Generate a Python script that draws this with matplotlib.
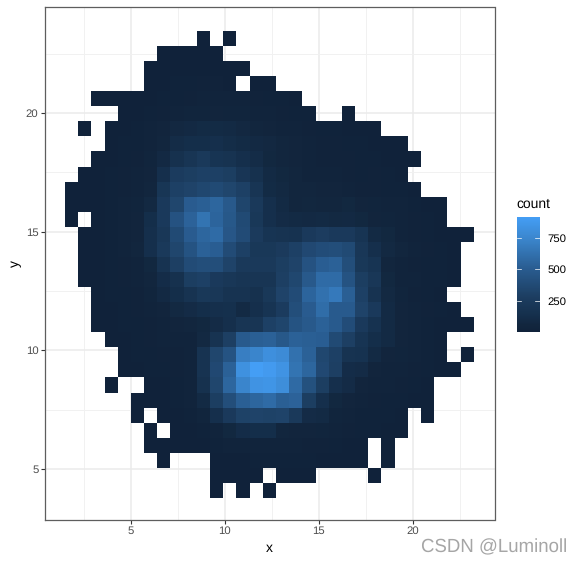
import matplotlib
matplotlib.use("Agg")
import matplotlib.pyplot as plt
import numpy as np
from matplotlib.colors import LinearSegmentedColormap

plt.rcParams["font.family"] = ["Liberation Sans", "DejaVu Sans"]
plt.rcParams["text.hinting"] = "no_hinting"

W, H = 581, 563

# bin layout of the 2d histogram
X_START, X_WIDTH = 1.49, 0.7015
Y_START, Y_HEIGHT = 23.46, -0.635

# counts per bin, top row first, 0 = empty bin
COUNTS = [
    [0,0,0,0,0,0,0,0,0,0,1,0,1,0,0,0,0,0,0,0,0,0,0,0,0,0,0,0,0,0,0],
    [0,0,0,0,0,0,0,1,2,3,3,2,0,0,0,0,0,0,0,0,0,0,0,0,0,0,0,0,0,0,0],
    [0,0,0,0,0,0,2,3,4,5,6,6,4,2,0,0,0,0,0,0,0,0,0,0,0,0,0,0,0,0,0],
    [0,0,0,0,0,0,3,6,10,14,18,16,8,0,3,3,0,0,0,0,0,0,0,0,0,0,0,0,0,0,0],
    [0,0,2,2,3,4,6,10,14,18,25,28,28,24,20,15,10,6,0,0,0,0,0,0,0,0,0,0,0,0,0],
    [0,0,0,0,6,8,12,20,30,38,40,45,38,40,32,28,20,15,10,0,0,3,0,0,0,0,0,0,0,0,0],
    [0,1,0,5,8,12,30,50,75,85,95,95,90,75,55,50,35,25,18,14,10,8,5,3,0,0,0,0,0,0,0],
    [0,0,0,6,10,14,30,60,105,120,125,130,115,95,85,75,60,50,30,20,18,14,10,8,5,3,0,0,0,0,0],
    [0,0,5,8,15,22,40,85,150,190,230,180,170,130,105,70,60,45,28,22,20,18,10,12,8,6,3,0,0,0,0],
    [0,3,5,10,18,25,45,130,260,280,300,300,280,195,150,90,70,55,35,30,28,22,15,18,12,7,0,0,0,0,0],
    [2,3,6,12,20,30,60,200,300,320,350,370,340,300,190,95,80,60,55,50,45,30,22,20,15,10,4,0,0,0,0],
    [2,4,8,15,25,40,80,240,340,500,520,560,480,330,230,130,90,60,65,60,58,70,50,38,30,25,15,8,5,0,0],
    [1,0,8,15,28,45,120,240,430,540,640,550,470,370,220,130,100,90,85,90,80,85,70,50,40,28,18,10,5,0,0],
    [0,3,8,15,28,50,130,210,370,500,560,590,460,380,250,180,170,160,240,270,240,240,180,90,70,30,20,12,8,5,2],
    [0,3,8,15,30,55,130,230,340,440,530,510,380,300,220,220,250,300,360,390,400,370,210,130,80,55,25,18,12,6,0],
    [0,3,7,14,22,35,70,170,290,380,400,400,320,230,230,230,280,320,430,510,530,400,220,180,60,35,22,14,10,5,0],
    [0,3,6,12,20,30,60,110,150,280,300,240,210,190,190,190,290,350,480,590,590,440,280,210,70,35,25,15,10,4,0],
    [0,0,5,10,15,22,40,85,120,170,220,210,170,170,150,220,320,380,550,620,670,520,300,170,80,40,22,14,8,0,0],
    [0,0,5,8,12,20,30,50,80,100,120,130,140,90,130,180,260,400,500,600,490,490,320,240,90,50,30,16,10,5,0],
    [0,0,4,6,10,14,20,30,45,55,70,100,130,190,190,300,330,440,480,530,490,390,240,160,90,45,25,14,8,5,2],
    [0,0,0,5,8,12,18,25,30,35,80,170,290,490,520,530,470,530,520,510,370,290,180,120,90,45,30,15,8,0,0],
    [0,0,0,0,6,9,14,18,22,30,170,340,440,700,740,810,780,620,530,350,300,170,160,90,50,40,25,12,6,0,1],
    [0,0,0,0,5,8,12,15,20,30,170,360,530,820,915,890,840,640,560,360,290,110,100,50,35,25,18,12,8,4,0],
    [0,0,0,1,0,0,3,8,14,35,150,340,560,740,840,850,800,580,420,280,130,100,50,35,25,18,12,6,0,0,0],
    [0,0,0,0,0,3,5,8,14,30,90,280,400,520,560,590,520,540,280,130,70,45,25,18,14,10,7,3,0,0,0],
    [0,0,0,0,0,1,0,5,8,12,40,130,240,310,320,310,320,230,100,90,40,25,15,12,9,6,0,1,0,0,0],
    [0,0,0,0,0,0,1,0,4,7,15,35,70,110,120,120,60,50,50,40,25,18,12,9,6,3,0,0,0,0,0],
    [0,0,0,0,0,0,1,2,4,6,8,15,25,30,35,35,30,25,22,18,14,8,4,0,1,0,0,0,0,0,0],
    [0,0,0,0,0,0,0,1,0,0,0,3,5,8,10,12,12,10,9,6,5,3,2,0,1,0,0,0,0,0,0],
    [0,0,0,0,0,0,0,0,0,0,0,1,2,2,2,0,2,2,1,0,0,0,0,1,0,0,0,0,0,0,0],
    [0,0,0,0,0,0,0,0,0,0,0,1,0,1,0,1,0,0,0,0,0,0,0,0,0,0,0,0,0,0,0],
]

X_TICKS = [5, 10, 15, 20]
Y_TICKS = [5, 10, 15, 20]
X_MINOR = [2.5, 7.5, 12.5, 17.5, 22.5]
Y_MINOR = [7.5, 12.5, 17.5, 22.5]
BAR_TICKS = [250, 500, 750]

GRID = "#EBEBEB"
cmap = LinearSegmentedColormap.from_list("count", [
    (0.0, "#10223A"), (0.06, "#12263E"), (0.15, "#15304D"), (0.3, "#1C3D60"),
    (0.55, "#295C90"), (0.8, "#3A84CA"), (1.0, "#449EF5"),
])


def px_axes(left, top, right, bottom):
    return fig.add_axes([left / W, 1 - bottom / H, (right - left) / W, (bottom - top) / H])


fig = plt.figure(figsize=(W / 100, H / 100), dpi=100, facecolor="white")
ax = px_axes(44.5, 7, 494.5, 519.5)

counts = np.ma.masked_equal(np.array(COUNTS, dtype=float), 0)
nrow, ncol = counts.shape
x_edges = X_START + X_WIDTH * np.arange(ncol + 1)
y_edges = Y_START + Y_HEIGHT * np.arange(nrow + 1)
mesh = ax.pcolormesh(x_edges, y_edges, counts, cmap=cmap, vmin=1, vmax=915, zorder=3, linewidth=0, rasterized=True)

ax.set_xlim(0.4, 24.34)
ax.set_ylim(2.87, 24.47)
ax.set_xticks(X_TICKS)
ax.set_yticks(Y_TICKS)
ax.set_xticks(X_MINOR, minor=True)
ax.set_yticks(Y_MINOR, minor=True)
ax.grid(True, which="major", color=GRID, linewidth=1.1, zorder=0)
ax.grid(True, which="minor", color="#F1F1F1", linewidth=0.7, zorder=0)
ax.set_axisbelow(True)
ax.tick_params(which="minor", length=0)
ax.tick_params(which="major", length=2.7, width=0.8, color="#333333", labelsize=8.2, labelcolor="#4D4D4D", pad=1.6)
for spine in ax.spines.values():
    spine.set_color("#5E5E5E")
    spine.set_linewidth(0.9)
    spine.set_zorder(5)
ax.set_xlabel("x", fontsize=10, color="black", labelpad=4.5)
ax.set_ylabel("y", fontsize=10, color="black", labelpad=3)

cax = px_axes(516.5, 217, 539.5, 332)
bar = fig.colorbar(mesh, cax=cax, ticks=BAR_TICKS)
bar.outline.set_visible(False)
bar.ax.tick_params(length=0, labelsize=8.2, labelcolor="black", pad=5.5)
for value in BAR_TICKS:
    cax.plot([0, 0.2], [value, value], color="white", lw=0.5, transform=cax.get_yaxis_transform())
    cax.plot([0.8, 1], [value, value], color="white", lw=0.5, transform=cax.get_yaxis_transform())

fig.text(516.5 / W, 1 - 204 / H, "count", fontsize=10, color="black", ha="left", va="center")
fig.text(567 / W, 1 - 547 / H, "CSDN @Luminoll", fontsize=13.4, color="#9C9C9C", alpha=0.9, ha="right", va="center")

fig.savefig("out.png", dpi=100, facecolor="white")
